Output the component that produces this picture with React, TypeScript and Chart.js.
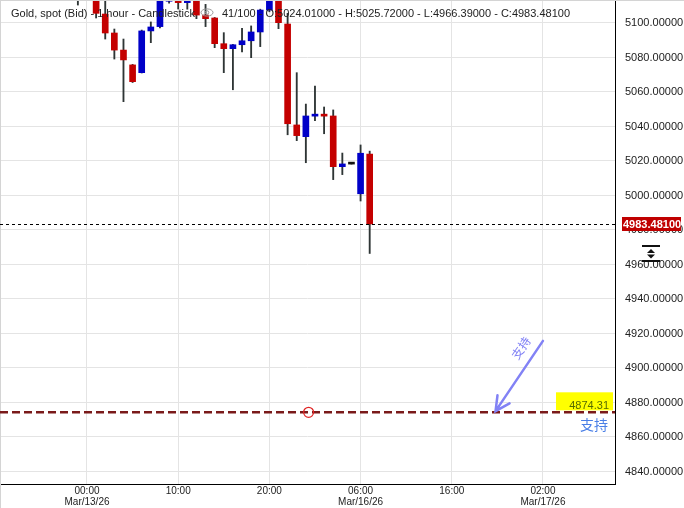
import React, { useEffect, useRef } from 'react';
import { Chart, registerables } from 'chart.js';
Chart.register(...registerables);

// ---- data (bar index 0 = 00:00 Mar/13/26, one bar per hour of trading) ----
const barIndex = [-1, 0, 1, 2, 3, 4, 5, 6, 7, 8, 9, 10, 11, 12, 13, 14, 15, 16, 17, 18, 19, 20, 21, 22, 23, 24, 25, 26, 27, 28, 29, 30, 31];
const opens = [5121, 5124, 5118, 5105.2, 5094.2, 5084.3, 5075.7, 5071.2, 5095.4, 5097.9, 5112.6, 5120, 5111.8, 5118, 5104.6, 5102.9, 5088.0, 5085.1, 5087.4, 5089.7, 5094.8, 5107.5, 5118, 5099.4, 5040.9, 5034.1, 5046.0, 5046.3, 5046.1, 5016.7, 5018.2, 5001.0, 5024.01];
const highs = [5128, 5132, 5122, 5112.8, 5096.5, 5090.7, 5076.0, 5095.9, 5100.6, 5118, 5124, 5125, 5122, 5124, 5110.8, 5103.2, 5094.4, 5087.6, 5096.9, 5098.3, 5108, 5122, 5122, 5105.6, 5071.2, 5053.0, 5063.5, 5051.3, 5049.6, 5024.6, 5018.2, 5029.3, 5025.72];
const lows = [5110.4, 5116, 5102.9, 5090.7, 5079.1, 5054.4, 5065.5, 5071.0, 5088.6, 5097.1, 5111.5, 5108.1, 5108, 5102.5, 5097.9, 5085.7, 5071.2, 5061.3, 5083.2, 5079.9, 5086.3, 5106.5, 5096.7, 5035.2, 5031.8, 5019.0, 5043.4, 5035.8, 5009.2, 5012.1, 5018.2, 4996.8, 4966.39];
const closes = [5124, 5120, 5105.6, 5094.2, 5084.3, 5078.6, 5066.0, 5095.4, 5097.7, 5114.5, 5119, 5111.8, 5117, 5104.6, 5102.5, 5088.0, 5085.1, 5087.4, 5089.7, 5094.8, 5107.5, 5118, 5100.2, 5041.6, 5034.7, 5046.1, 5046.3, 5046.0, 5016.7, 5018.3, 5018.2, 5024.5, 4983.481];

const yTicks = [4840, 4860, 4880, 4900, 4920, 4940, 4960, 4980, 5000, 5020, 5040, 5060, 5080, 5100];
const xTickIndex = [0, 10, 20, 30, 40, 50];
const xTickLabels: string[][] = [['00:00', 'Mar/13/26'], ['10:00'], ['20:00'], ['06:00', 'Mar/16/26'], ['16:00'], ['02:00', 'Mar/17/26']];

const lastPrice = 4983.481;
const supportPrice = 4874.31;
const supportLabel = '4874.31';
const supportText = '支持';
const circleIndex = 24.3;
const arrowStart = { x: 50.0, y: 4915.7 };
const arrowEnd = { x: 44.8, y: 4875.0 };

const titleLeft = 'Gold, spot (Bid) - 1 hour - Candlestick';
const titleRight = '41/100 - O:5024.01000 - H:5025.72000 - L:4966.39000 - C:4983.48100';

const X_MIN = -9.54;
const X_MAX = 57.9;
const Y_MIN = 4832.75;
const Y_MAX = 5113.33;

const RED = '#c40000';
const BLUE = '#0000c8';

export default function App() {
  const ref = useRef<HTMLCanvasElement>(null);
  useEffect(() => {
    document.body.style.margin = '0';
    const canvas = ref.current!;
    const bodies = barIndex.map((x, i) => ({ x, y: [opens[i], closes[i]] }));
    const wicks = barIndex.map((x, i) => ({ x, y: [lows[i], highs[i]] }));
    const bodyColors = barIndex.map((_, i) =>
      closes[i] > opens[i] ? BLUE : closes[i] < opens[i] ? RED : '#111'
    );

    const overlay = {
      id: 'overlay',
      afterDraw(chart: any) {
        const c = chart.ctx as CanvasRenderingContext2D;
        const xs = chart.scales.x;
        const ys = chart.scales.y;
        const area = chart.chartArea;
        c.save();

        // borders of the panel
        c.strokeStyle = '#d4d4d4';
        c.lineWidth = 1;
        c.beginPath();
        c.moveTo(0.5, 0);
        c.lineTo(0.5, 508);
        c.moveTo(0, 0.5);
        c.lineTo(684, 0.5);
        c.stroke();

        // title
        c.fillStyle = '#222';
        c.font = '11px "Liberation Sans", Arial, sans-serif';
        c.textBaseline = 'alphabetic';
        c.textAlign = 'left';
        c.fillText(titleLeft, 11, 16.5);
        // eye icon
        c.strokeStyle = '#999';
        c.lineWidth = 1;
        c.beginPath();
        c.ellipse(207, 12.5, 6, 3.6, 0, 0, Math.PI * 2);
        c.stroke();
        c.beginPath();
        c.arc(207, 12.5, 1.8, 0, Math.PI * 2);
        c.stroke();
        c.fillText(titleRight, 222, 16.5);

        // current price dashed line
        const yl = Math.round(ys.getPixelForValue(lastPrice)) + 0.5;
        c.strokeStyle = '#000';
        c.lineWidth = 1;
        c.setLineDash([3, 3]);
        c.beginPath();
        c.moveTo(area.left, yl);
        c.lineTo(area.right, yl);
        c.stroke();
        c.setLineDash([]);

        // current price label
        c.fillStyle = '#c00000';
        c.fillRect(622, yl - 7.5, 59, 14);
        c.fillStyle = '#fff';
        c.font = 'bold 11px "Liberation Sans", Arial, sans-serif';
        c.textBaseline = 'middle';
        c.fillText(lastPrice.toFixed(5), 623, yl + 0.5);

        // support line
        const ysup = ys.getPixelForValue(supportPrice);
        c.strokeStyle = '#7a1a1a';
        c.lineWidth = 2.5;
        c.setLineDash([8, 4]);
        c.beginPath();
        c.moveTo(area.left, ysup);
        c.lineTo(area.right, ysup);
        c.stroke();
        c.setLineDash([]);

        // circle marker
        c.strokeStyle = '#e02424';
        c.lineWidth = 1.2;
        c.beginPath();
        c.arc(xs.getPixelForValue(circleIndex), ysup, 5, 0, Math.PI * 2);
        c.stroke();

        // yellow label
        c.fillStyle = '#ffff00';
        c.fillRect(556, ysup - 20, 57, 18);
        c.fillStyle = '#556b00';
        c.font = '11px "Liberation Sans", Arial, sans-serif';
        c.textAlign = 'right';
        c.textBaseline = 'alphabetic';
        c.fillText(supportLabel, 609, ysup - 3);

        // blue text under line
        c.fillStyle = '#4a7fe6';
        c.font = '14px "Noto Sans CJK SC", sans-serif';
        c.textAlign = 'center';
        c.textBaseline = 'middle';
        c.fillText(supportText, 594, ysup + 12);

        // arrow
        const ax0 = xs.getPixelForValue(arrowStart.x);
        const ay0 = ys.getPixelForValue(arrowStart.y);
        const ax1 = xs.getPixelForValue(arrowEnd.x);
        const ay1 = ys.getPixelForValue(arrowEnd.y);
        c.strokeStyle = '#8282f5';
        c.lineWidth = 2.5;
        c.lineCap = 'round';
        c.beginPath();
        c.moveTo(ax0, ay0);
        c.lineTo(ax1, ay1);
        const back = Math.atan2(ay0 - ay1, ax0 - ax1);
        const hl = 16;
        const ha = (27 * Math.PI) / 180;
        c.moveTo(ax1 + hl * Math.cos(back - ha), ay1 + hl * Math.sin(back - ha));
        c.lineTo(ax1, ay1);
        c.lineTo(ax1 + hl * Math.cos(back + ha), ay1 + hl * Math.sin(back + ha));
        c.stroke();

        // rotated text along arrow
        c.save();
        c.translate(521, 348);
        c.rotate(back);
        c.fillStyle = '#8282f5';
        c.font = '12px "Noto Sans CJK SC", sans-serif';
        c.textAlign = 'center';
        c.textBaseline = 'middle';
        c.fillText(supportText, 0, 0);
        c.restore();

        // small scale icon on price axis
        c.strokeStyle = '#111';
        c.fillStyle = '#111';
        c.lineWidth = 2;
        c.lineCap = 'butt';
        c.beginPath();
        c.moveTo(642, 246);
        c.lineTo(660, 246);
        c.moveTo(642, 261);
        c.lineTo(660, 261);
        c.stroke();
        c.beginPath();
        c.moveTo(651, 249);
        c.lineTo(655, 253);
        c.lineTo(647, 253);
        c.closePath();
        c.moveTo(647, 254.5);
        c.lineTo(655, 254.5);
        c.lineTo(651, 258.5);
        c.closePath();
        c.fill();

        c.restore();
      },
    };

    const chart = new Chart(canvas, {
      type: 'bar',
      data: {
        datasets: [
          {
            data: bodies as any,
            backgroundColor: bodyColors,
            barThickness: 6,
            grouped: false,
            order: 0,
            minBarLength: 2,
            borderWidth: 0,
          } as any,
          {
            data: wicks as any,
            backgroundColor: '#2e3535',
            barThickness: 1.2,
            grouped: false,
            order: 1,
            borderWidth: 0,
          } as any,
        ],
      },
      options: {
        responsive: false,
        animation: false,
        layout: { padding: 0 },
        plugins: { legend: { display: false }, tooltip: { enabled: false }, title: { display: false } },
        scales: {
          x: {
            type: 'linear',
            min: X_MIN,
            max: X_MAX,
            offset: false,
            grid: { color: '#e4e4e4', drawTicks: false, offset: false },
            border: { color: '#000', width: 1 },
            ticks: {
              autoSkip: false,
              maxRotation: 0,
              padding: 2,
              color: '#222',
              font: { family: '"Liberation Sans Narrow", "Arial Narrow", sans-serif', size: 10, lineHeight: 1.1 },
              callback: (v: any) => {
                const k = xTickIndex.indexOf(Number(v));
                return k >= 0 ? xTickLabels[k] : '';
              },
            },
            afterBuildTicks: (s: any) => {
              s.ticks = xTickIndex.map((v) => ({ value: v }));
            },
            afterFit: (s: any) => {
              s.height = 24;
              s.paddingLeft = 0;
              s.paddingRight = 0;
              s.paddingTop = 0;
              s.paddingBottom = 0;
            },
          },
          y: {
            type: 'linear',
            position: 'right',
            min: Y_MIN,
            max: Y_MAX,
            grid: { color: '#e4e4e4', drawTicks: false },
            border: { color: '#000', width: 1 },
            ticks: {
              padding: 10,
              color: '#222',
              font: { family: '"Liberation Sans", Arial, sans-serif', size: 11 },
              callback: (v: any) => Number(v).toFixed(5),
            },
            afterBuildTicks: (s: any) => {
              s.ticks = yTicks.map((v) => ({ value: v }));
            },
            afterFit: (s: any) => {
              s.width = 69;
              s.paddingTop = 0;
              s.paddingBottom = 0;
              s.paddingLeft = 0;
              s.paddingRight = 0;
            },
          },
        },
      },
      plugins: [overlay],
    });
    return () => chart.destroy();
  }, []);
  return (
    <div style={{ width: 684, height: 508, background: '#fff' }}>
      <canvas ref={ref} width={684} height={508} style={{ display: 'block' }} />
    </div>
  );
}
